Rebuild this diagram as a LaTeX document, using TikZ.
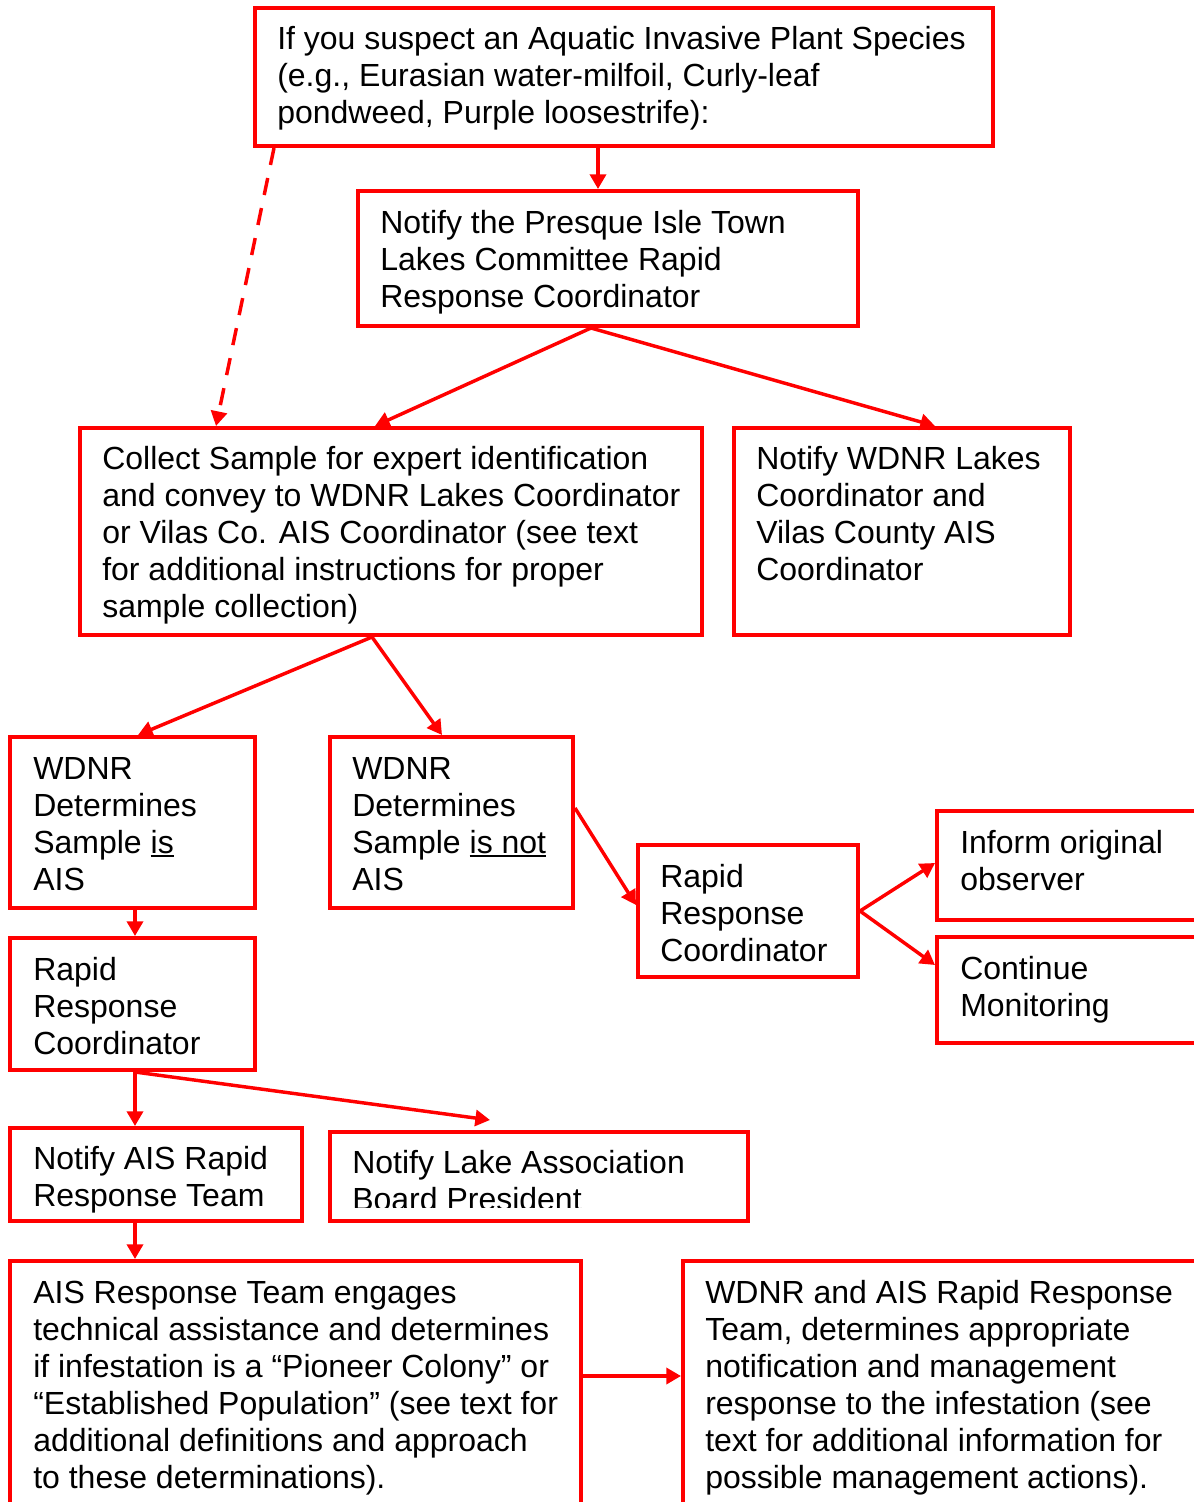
\documentclass[tikz,border=0pt]{standalone}
\usepackage{fontspec}
\setmainfont{Liberation Sans}
\usetikzlibrary{arrows.meta,calc,fit}
\newcommand\undl[1]{\setbox0\hbox{#1}\rlap{\rule[-3.2pt]{\wd0}{2pt}}\box0}
\begin{document}
\begin{tikzpicture}[x=0.75pt,y=-0.75pt,
  box/.style={draw=red, line width=3pt, inner sep=0pt},
  txt/.style={anchor=base west, align=left, inner sep=0pt, font=\fontsize{24pt}{27.75pt}\selectfont, text=black},
  arr/.style={draw=red, line width=2.6pt, -{Triangle[length=11pt,width=12pt]}},
  dasharr/.style={arr, dash pattern=on 13pt off 10pt}]
\useasboundingbox (0,0) rectangle (1194,1502);
\clip (0,0) rectangle (1194,1502);
% boxes
\node[box, fit={(255,8)(993,146)}] (top) {};
\node[box, fit={(358,191)(858,326)}] (presque) {};
\node[box, fit={(80,428)(702,635)}] (collect) {};
\node[box, fit={(734,428)(1070,635)}] (notifyW) {};
\node[box, fit={(10,737)(255,908)}] (isais) {};
\node[box, fit={(330,737)(573,908)}] (isnot) {};
\node[box, fit={(638,845)(858,977)}] (rrR) {};
\node[box, fit={(937,811)(1210,920)}] (inform) {};
\node[box, fit={(937,937)(1210,1043)}] (cont) {};
\node[box, fit={(10,938)(255,1070)}] (rrL) {};
\node[box, fit={(10,1128)(302,1221)}] (nais) {};
\node[box, fit={(330,1132)(748,1221)}] (nlake) {};
\node[box, fit={(10,1261)(581,1515)}] (aisresp) {};
\node[box, fit={(683,1261)(1210,1515)}] (wdnr) {};
% texts (anchored at the baseline of the last line)
\node[txt] (topT) at (277,123) {If you suspect an Aquatic Invasive Plant Species\\(e.g., Eurasian water-milfoil, Curly-leaf\\pondweed, Purple loosestrife):};
\node[txt] (presqueT) at (380,307) {Notify the Presque Isle Town\\Lakes Committee Rapid\\Response Coordinator};
\node[txt] (collectT) at (102,617) {Collect Sample for expert identification\\and convey to WDNR Lakes Coordinator\\or Vilas Co. AIS Coordinator (see text\\for additional instructions for proper\\sample collection)};
\node[txt] (notifyWT) at (756,580) {Notify WDNR Lakes\\Coordinator and\\Vilas County AIS\\Coordinator};
\node[txt] (isaisT) at (33,890) {WDNR\\Determines\\Sample \undl{is}\\AIS};
\node[txt] (isnotT) at (352,890) {WDNR\\Determines\\Sample \undl{is not}\\AIS};
\node[txt] (rrRT) at (660,961) {Rapid\\Response\\Coordinator};
\node[txt] (informT) at (960,890) {Inform original\\observer};
\node[txt] (contT) at (960,1016) {Continue\\Monitoring};
\node[txt] (rrLT) at (33,1054) {Rapid\\Response\\Coordinator};
\node[txt] (naisT) at (33,1206) {Notify AIS Rapid\\Response Team};
\begin{scope}
\clip (330,1132) rectangle (748,1207);
\node[txt] (nlakeT) at (352,1210) {Notify Lake Association\\Board President};
\end{scope}
\node[txt] (aisrespT) at (33,1488) {AIS Response Team engages\\technical assistance and determines\\if infestation is a “Pioneer Colony” or\\“Established Population” (see text for\\additional definitions and approach\\to these determinations).};
\node[txt] (wdnrT) at (705,1488) {WDNR and AIS Rapid Response\\Team, determines appropriate\\notification and management\\response to the infestation (see\\text for additional information for\\possible management actions).};
% connectors
\draw[arr] ($(top.south)+(-26,0)$) -- ($(presque.north)+(-10,0)$);
\draw[dasharr] ($(top.south west)+(21,0)$) -- ($(collect.north west)+(138,0)$);
\draw[arr] ($(presque.south)+(-17,0)$) -- ($(collect.north)+(-16,0)$);
\draw[arr] ($(presque.south)+(-17,0)$) -- ($(notifyW.north)+(33,0)$);
\draw[arr] ($(collect.south)+(-19,0)$) -- ($(isais.north)+(5.5,0)$);
\draw[arr] ($(collect.south)+(-19,0)$) -- ($(isnot.north)+(-9.5,0)$);
\draw[arr] ($(isnot.east)+(0,-14.5)$) -- ($(rrR.west)+(0,-6)$);
\draw[arr] (rrR.east) -- ($(inform.west)+(0,-2.5)$);
\draw[arr] (rrR.east) -- ($(cont.west)+(0,-25)$);
\draw[arr] ($(isais.south)+(2.5,0)$) -- ($(rrL.north)+(2.5,0)$);
\draw[arr] ($(rrL.south)+(2.5,0)$) -- ($(nais.north)+(-21,0)$);
\draw[arr] ($(rrL.south)+(2.5,0)$) -- ($(nlake.north)+(-49,-10)$);
\draw[arr] ($(nais.south)+(-21,0)$) -- ($(nais.south |- aisresp.north)+(-21,0)$);
\draw[arr] ($(aisresp.north east)+(0,117)$) -- ($(wdnr.north west)+(0,117)$);
\end{tikzpicture}
\end{document}
